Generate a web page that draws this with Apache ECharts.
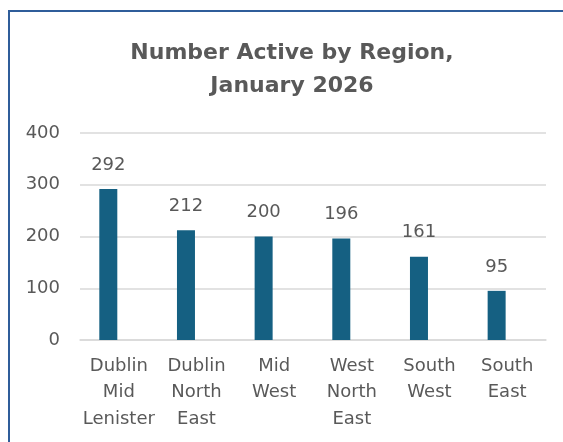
<!DOCTYPE html>
<html>
<head>
<meta charset="utf-8">
<script src="https://cdn.jsdelivr.net/npm/echarts@6/dist/echarts.min.js"></script>
<style>
html,body{margin:0;padding:0;background:#fff;}
#c{width:563px;height:442px;}
</style>
</head>
<body>
<div id="c"></div>
<script>
const categories = ["Dublin\nMid\nLenister", "Dublin\nNorth\nEast", "Mid\nWest", "West\nNorth\nEast", "South\nWest", "South\nEast"];
const activeValues = [292, 212, 200, 196, 161, 95];
const emptyValues = [null, null, null, null, null, null];
const yTicks = { min: 0, max: 400, interval: 100 };
const titleText = "Number Active by Region,\nJanuary 2026";

const chart = echarts.init(document.getElementById('c'), null, { renderer: 'canvas' });
const textColor = '#595959';
const labelFont = 'DejaVu Sans';
chart.setOption({
  backgroundColor: '#ffffff',
  animation: false,
  title: {
    text: titleText,
    left: 287,
    top: 32,
    textAlign: 'center',
    textStyle: {
      fontFamily: 'DejaVu Sans',
      fontWeight: 'bold',
      fontSize: 22,
      lineHeight: 33,
      color: textColor
    }
  },
  graphic: [{
    type: 'rect',
    shape: { x: 9, y: 11, width: 700, height: 600 },
    style: { fill: 'none', stroke: '#2f5d9a', lineWidth: 2 },
    silent: true
  }],
  grid: { left: 80, right: 17, top: 133, bottom: 102, containLabel: false },
  xAxis: {
    type: 'category',
    data: categories,
    axisLine: { show: true, lineStyle: { color: '#d9d9d9', width: 1.5 } },
    axisTick: { show: false },
    axisLabel: {
      color: textColor,
      fontFamily: labelFont,
      fontSize: 18,
      lineHeight: 26.5,
      margin: 13,
      interval: 0
    }
  },
  yAxis: {
    type: 'value',
    min: yTicks.min,
    max: yTicks.max,
    interval: yTicks.interval,
    axisLine: { show: false },
    axisTick: { show: false },
    splitLine: { lineStyle: { color: '#d9d9d9', width: 1.5 } },
    axisLabel: {
      color: textColor,
      fontFamily: labelFont,
      fontSize: 18,
      margin: 20
    }
  },
  series: [{
    type: 'bar',
    data: activeValues,
    barWidth: 18,
    barGap: '17%',
    itemStyle: { color: '#156082' },
    label: {
      show: true,
      position: 'top',
      distance: 15,
      color: textColor,
      fontFamily: labelFont,
      fontSize: 18
    }
  }, {
    type: 'bar',
    data: emptyValues,
    barWidth: 18,
    itemStyle: { color: '#156082' }
  }]
});
</script>
</body>
</html>
